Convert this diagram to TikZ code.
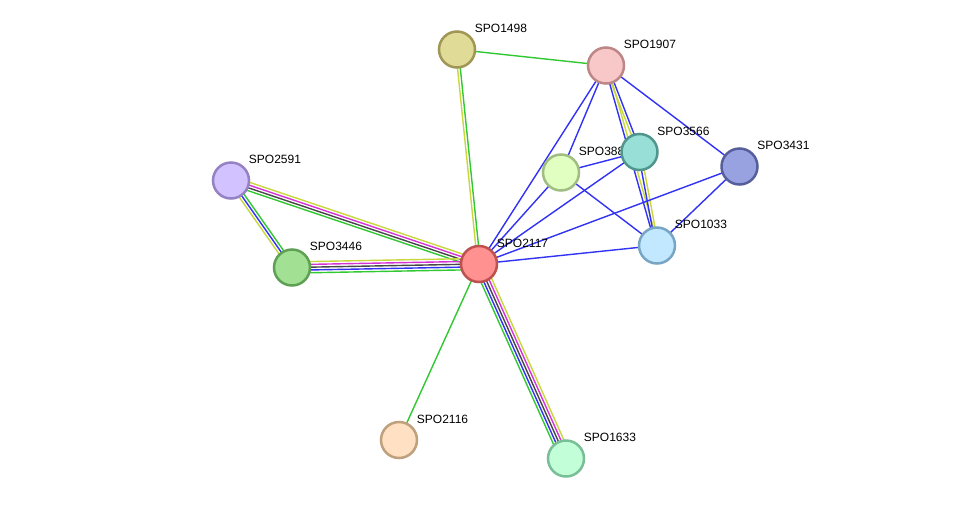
\documentclass[tikz,border=0pt]{standalone}
\usepackage{fontspec}
\setmainfont{Liberation Sans}
\usepackage{tikz}
\usetikzlibrary{calc, backgrounds}
\pgfdeclarelayer{paper}
\pgfsetlayers{paper,background,main}
% evidence colours
\definecolor{evgreen}{RGB}{50, 200, 50}
\definecolor{evblue}{RGB}{50, 50, 245}
\definecolor{evyellow}{RGB}{200, 215, 60}
\definecolor{evmagenta}{RGB}{215, 50, 215}
\definecolor{evgray}{RGB}{70, 70, 70}
% protein colours
\definecolor{redfill}{RGB}{255, 145, 145}     \definecolor{redline}{RGB}{190, 80, 80}
\definecolor{olivefill}{RGB}{224, 220, 152}   \definecolor{oliveline}{RGB}{160, 150, 85}
\definecolor{pinkfill}{RGB}{248, 200, 200}    \definecolor{pinkline}{RGB}{190, 135, 135}
\definecolor{tealfill}{RGB}{152, 224, 215}    \definecolor{tealline}{RGB}{80, 150, 140}
\definecolor{limefill}{RGB}{226, 255, 194}    \definecolor{limeline}{RGB}{160, 190, 130}
\definecolor{navyfill}{RGB}{152, 162, 225}    \definecolor{navyline}{RGB}{85, 95, 155}
\definecolor{skyfill}{RGB}{194, 232, 255}     \definecolor{skyline}{RGB}{120, 165, 195}
\definecolor{lilacfill}{RGB}{210, 194, 255}   \definecolor{lilacline}{RGB}{150, 130, 195}
\definecolor{leaffill}{RGB}{162, 224, 148}    \definecolor{leafline}{RGB}{95, 160, 85}
\definecolor{peachfill}{RGB}{255, 224, 194}   \definecolor{peachline}{RGB}{190, 160, 125}
\definecolor{mintfill}{RGB}{194, 255, 216}    \definecolor{mintline}{RGB}{120, 190, 150}

% parallel evidence lines between two proteins (first colour = right-hand side)
\newcommand{\stredge}[3]{%
  \foreach \c [count=\i] in {#3} {\xdef\nlines{\i}}
  \foreach \c [count=\i] in {#3} {
    \pgfmathsetmacro{\off}{((\nlines+1)/2-\i)*2.8}
    \draw[edge, draw=\c] ($(#1)!\off pt!90:(#2)$) -- ($(#2)!\off pt!-90:(#1)$);
  }
}

\begin{document}
\begin{tikzpicture}[
  x=1pt, y=-1pt,
  prot/.style={circle, minimum size=36pt, inner sep=0pt, line width=2.5pt},
  lbl/.style={font=\fontsize{12}{14}\selectfont, inner sep=0pt, xshift=-1.5pt, yshift=21pt, text=black},
  edge/.style={line width=1.4pt}
]
  \begin{pgfonlayer}{paper}
    \fill[white] (0,0) rectangle (975,504);
  \end{pgfonlayer}
  \useasboundingbox (0,0) rectangle (975,504);

  \node[prot, fill=redfill, draw=redline, label={[lbl]0:SPO2117}] (s2117) at (479, 264) {};
  \node[prot, fill=olivefill, draw=oliveline, label={[lbl]0:SPO1498}] (s1498) at (457, 49.5) {};
  \node[prot, fill=pinkfill, draw=pinkline, label={[lbl]0:SPO1907}] (s1907) at (606, 65.5) {};
  \node[prot, fill=limefill, draw=limeline, label={[lbl]0:SPO3889}] (s3889) at (561, 172.5) {};
  \node[prot, fill=tealfill, draw=tealline, label={[lbl]0:SPO3566}] (s3566) at (639.5, 152) {};
  \node[prot, fill=navyfill, draw=navyline, label={[lbl]0:SPO3431}] (s3431) at (739.5, 166.5) {};
  \node[prot, fill=skyfill, draw=skyline, label={[lbl]0:SPO1033}] (s1033) at (657, 245.5) {};
  \node[prot, fill=lilacfill, draw=lilacline, label={[lbl]0:SPO2591}] (s2591) at (231, 180.5) {};
  \node[prot, fill=leaffill, draw=leafline, label={[lbl]0:SPO3446}] (s3446) at (292, 267.5) {};
  \node[prot, fill=peachfill, draw=peachline, label={[lbl]0:SPO2116}] (s2116) at (399, 440) {};
  \node[prot, fill=mintfill, draw=mintline, label={[lbl]0:SPO1633}] (s1633) at (566, 458.5) {};

  \begin{scope}[on background layer]
    \stredge{s1498}{s1907}{evgreen}
    \stredge{s1498}{s2117}{evgreen, evyellow}
    \stredge{s1907}{s2117}{evblue}
    \stredge{s1907}{s3889}{evblue}
    \stredge{s1907}{s3566}{evblue, evyellow}
    \stredge{s1907}{s1033}{evyellow, evblue}
    \stredge{s1907}{s3431}{evblue}
    \stredge{s3566}{s3889}{evblue}
    \stredge{s3566}{s2117}{evblue}
    \stredge{s3566}{s1033}{evyellow, evblue}
    \stredge{s3889}{s2117}{evblue}
    \stredge{s3889}{s1033}{evblue}
    \stredge{s3431}{s2117}{evblue}
    \stredge{s3431}{s1033}{evblue}
    \stredge{s1033}{s2117}{evblue}
    \stredge{s2591}{s2117}{evyellow, evmagenta, evgray, evgreen}
    \stredge{s2591}{s3446}{evgreen, evblue, evyellow}
    \stredge{s3446}{s2117}{evyellow, evmagenta, evgray, evblue, evgreen}
    \stredge{s2117}{s1633}{evyellow, evmagenta, evgray, evblue, evgreen}
    \stredge{s2117}{s2116}{evgreen}
  \end{scope}
\end{tikzpicture}
\end{document}
